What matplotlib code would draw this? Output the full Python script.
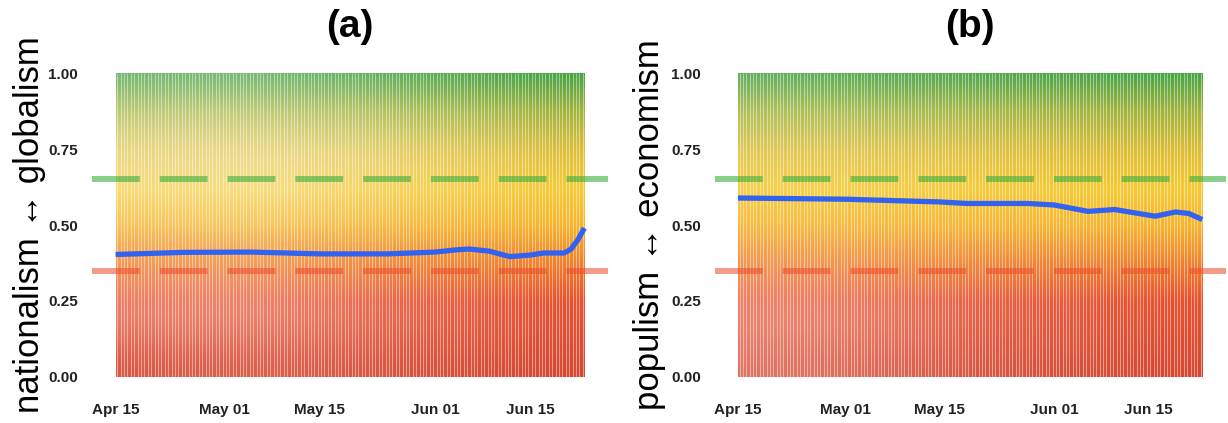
import numpy as np
import pandas as pd
import matplotlib
matplotlib.use('Agg')
import matplotlib.pyplot as plt
import matplotlib.dates as mdates
from matplotlib.colors import LinearSegmentedColormap

# Dane (rok 2016, kampania przed referendum)
start = pd.Timestamp('2016-04-15')
end = pd.Timestamp('2016-06-23')

dni_a = ['2016-04-15', '2016-04-25', '2016-05-05', '2016-05-15', '2016-05-25',
         '2016-06-01', '2016-06-04', '2016-06-06', '2016-06-09', '2016-06-12',
         '2016-06-15', '2016-06-17', '2016-06-20', '2016-06-21', '2016-06-22', '2016-06-23']
trend_a = [0.403, 0.410, 0.411, 0.405, 0.405,
           0.411, 0.418, 0.421, 0.414, 0.396,
           0.401, 0.408, 0.408, 0.420, 0.450, 0.490]

dni_b = ['2016-04-15', '2016-05-01', '2016-05-15', '2016-05-19', '2016-05-28',
         '2016-06-01', '2016-06-06', '2016-06-10', '2016-06-13', '2016-06-16',
         '2016-06-19', '2016-06-21', '2016-06-23']
trend_b = [0.589, 0.585, 0.576, 0.571, 0.571,
           0.566, 0.545, 0.551, 0.540, 0.529,
           0.543, 0.538, 0.518]

# gestosc punktow (szacunek wizualny), wiersze od 0 do 1, kolumny w czasie
gestosc_a = [[0.85, 0.80, 0.80, 0.85, 0.90, 0.95, 1.00],
             [0.50, 0.45, 0.50, 0.65, 0.75, 0.85, 0.95],
             [0.60, 0.55, 0.60, 0.75, 0.85, 0.90, 1.00],
             [0.75, 0.70, 0.75, 0.85, 0.90, 0.95, 1.00],
             [0.55, 0.50, 0.50, 0.70, 0.80, 0.90, 1.00],
             [0.30, 0.25, 0.25, 0.40, 0.60, 0.70, 0.95],
             [0.40, 0.35, 0.40, 0.50, 0.65, 0.75, 0.95],
             [0.60, 0.55, 0.60, 0.70, 0.80, 0.90, 1.00]]
gestosc_b = [[0.60, 0.65, 0.75, 0.85, 0.90, 0.95, 1.00],
             [0.45, 0.50, 0.60, 0.80, 0.85, 0.90, 1.00],
             [0.60, 0.65, 0.75, 0.85, 0.90, 0.95, 1.00],
             [0.80, 0.80, 0.85, 0.90, 0.95, 0.95, 1.00],
             [0.85, 0.85, 0.90, 0.95, 0.95, 1.00, 1.00],
             [0.75, 0.75, 0.80, 0.90, 0.95, 1.00, 1.00],
             [0.70, 0.70, 0.75, 0.85, 0.90, 0.95, 1.00],
             [0.75, 0.80, 0.85, 0.90, 0.95, 0.95, 1.00]]

etykiety_y = ['nationalism \u2194 globalism', 'populism \u2194 economism']
tytuly = ['(a)', '(b)']
progi = [0.35, 0.65]
ticki_x = ['2016-04-15', '2016-05-01', '2016-05-15', '2016-06-01', '2016-06-15']

plt.rcParams['font.family'] = ['Liberation Sans', 'DejaVu Sans']

kolory = [(0.00, '#d54631'), (0.25, '#ea4e2b'), (0.40, '#f48a2a'), (0.50, '#f8b42b'),
          (0.62, '#f6c92f'), (0.75, '#dbbd33'), (0.88, '#9fb33a'), (1.00, '#47a343')]
cmap = LinearSegmentedColormap.from_list('grad', kolory)

fig = plt.figure(figsize=(12.28, 4.23), dpi=100)
pozycje = [[0.075, 0.073, 0.420, 0.790], [0.582, 0.073, 0.416, 0.790]]
ylabel_x = [0.024, 0.529]

x0 = mdates.date2num(start)
x1 = mdates.date2num(end)
pad = (x1 - x0) * 0.05

for i, (dni, trend, gest) in enumerate([(dni_a, trend_a, gestosc_a), (dni_b, trend_b, gestosc_b)]):
    ax = fig.add_axes(pozycje[i])
    grad = np.linspace(0, 1, 300).reshape(-1, 1)
    ax.imshow(grad, cmap=cmap, origin='lower', aspect='auto',
              extent=[x0, x1, 0, 1], interpolation='bilinear', zorder=1)
    # biale przerwy miedzy punktami
    g = np.array(gest)
    biel = np.ones(g.shape + (4,))
    biel[..., 3] = (1 - g) * 0.6
    ax.imshow(biel, origin='lower', aspect='auto', extent=[x0, x1, 0, 1],
              interpolation='bicubic', zorder=2)
    kreski = np.arange(x0 + 0.25, x1, 0.5)
    ax.vlines(kreski, 0, 1, colors='white', lw=0.8, alpha=0.45, zorder=3)

    ax.axhline(progi[1], color='#3cae3c', alpha=0.6, lw=4.3, dashes=(8, 3.35), zorder=4)
    ax.axhline(progi[0], color='#ea4a2c', alpha=0.55, lw=4.3, dashes=(8, 3.35), zorder=4)

    ax.plot(pd.to_datetime(dni), trend, color='#3163f0', lw=3.8,
            solid_capstyle='butt', solid_joinstyle='round', zorder=5)

    ax.set_xlim(x0 - pad, x1 + pad)
    ax.set_ylim(-0.05, 1.05)
    ax.set_yticks([0, 0.25, 0.5, 0.75, 1.0])
    ax.set_yticklabels(['0.00', '0.25', '0.50', '0.75', '1.00'])
    ax.set_xticks(mdates.date2num(pd.to_datetime(ticki_x)))
    ax.set_xticklabels(['Apr 15', 'May 01', 'May 15', 'Jun 01', 'Jun 15'])
    ax.tick_params(length=0, labelsize=11, labelcolor='#222222')
    ax.tick_params(axis='y', pad=10)
    ax.tick_params(axis='x', pad=8)
    for lab in ax.get_xticklabels() + ax.get_yticklabels():
        lab.set_fontweight('bold')
    for s in ax.spines.values():
        s.set_visible(False)

    srodek = pozycje[i][0] + pozycje[i][2] / 2
    fig.text(srodek, 0.937, tytuly[i], ha='center', va='center', fontsize=28, fontweight='bold')
    fig.text(ylabel_x[i], 0.47, etykiety_y[i], ha='center', va='center', rotation=90,
             fontsize=25)

plt.savefig('out.png', dpi=100)
